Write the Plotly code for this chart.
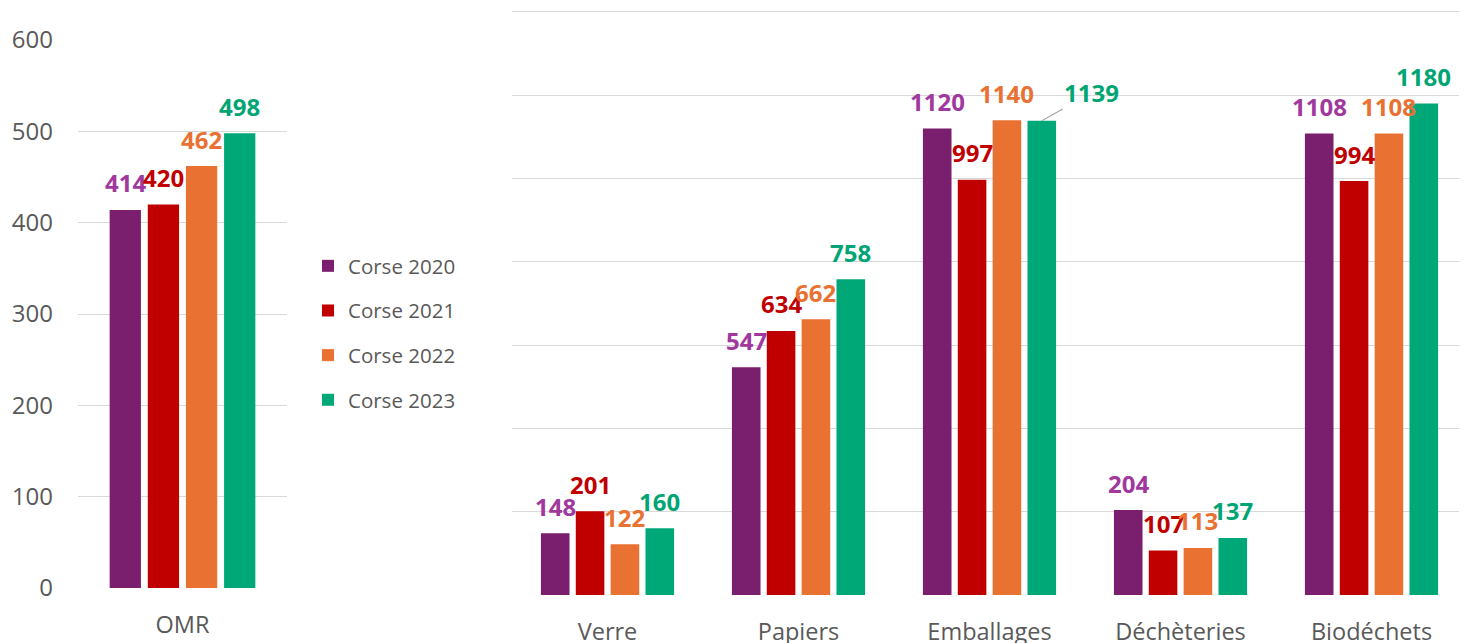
import plotly.graph_objects as go

# ---- data ----
series = ["Corse 2020", "Corse 2021", "Corse 2022", "Corse 2023"]
omr_categories = ["OMR"]
omr_values = [414, 420, 462, 498]  # 2020..2023

categories = ["Verre", "Papiers", "Emballages", "Déchèteries", "Biodéchets"]
corse_2020 = [148, 547, 1120, 204, 1108]
corse_2021 = [201, 634, 997, 107, 994]
corse_2022 = [122, 662, 1140, 113, 1108]
corse_2023 = [160, 758, 1139, 137, 1180]
right_values = [corse_2020, corse_2021, corse_2022, corse_2023]

left_ticks = [0, 100, 200, 300, 400, 500, 600]
right_ticks = [0, 200, 400, 600, 800, 1000, 1200, 1400]

# ---- style ----
bar_colors = ["#7A1F6D", "#C00000", "#E97132", "#00A878"]
label_colors = ["#A1389E", "#C00000", "#E97132", "#00A573"]
gray = "#595959"
grid = "#D9D9D9"
FONT = "Open Sans"

OFF = 8  # page body margin
W, H = 1467 - OFF, 643 - OFF
bargap = 0.27
bargroupgap = 0.18


def px(xs):
    return (xs - OFF) / W


def py(ys):
    return (H - (ys - OFF)) / H


x1_dom = [px(78), px(287)]
x2_dom = [px(512), 1.0]
y1_dom = [py(588), py(40)]
y2_top = 1405
y2_dom = [py(595), py(12 - (y2_top - 1400) / 2.4)]

fig = go.Figure()
for i, s in enumerate(series):
    fig.add_trace(go.Bar(
        x=omr_categories, y=[omr_values[i]], name=s,
        marker=dict(color=bar_colors[i], line=dict(width=0)),
        xaxis="x", yaxis="y", legendgroup=s, showlegend=True,
        hoverinfo="skip"))
    fig.add_trace(go.Bar(
        x=categories, y=right_values[i], name=s,
        marker=dict(color=bar_colors[i], line=dict(width=0)),
        xaxis="x2", yaxis="y2", legendgroup=s, showlegend=False,
        hoverinfo="skip"))

# data labels (centered above each bar)
annotations = []


def slot_px(dom, ncat):
    catw = (dom[1] - dom[0]) * W / ncat
    return (1 - bargap) * catw / len(series)


s1 = slot_px(x1_dom, len(omr_categories))
s2 = slot_px(x2_dom, len(categories))
for i in range(len(series)):
    f = dict(family=FONT, size=24, color=label_colors[i])
    for c, v in zip(omr_categories, [omr_values[i]]):
        annotations.append(dict(x=c, y=v, xref="x", yref="y", text=f"<b>{v}</b>",
                                showarrow=False, xshift=(i - 1.5) * s1, yshift=27,
                                font=f))
    for c, v in zip(categories, right_values[i]):
        if i == 3 and c == "Emballages":
            annotations.append(dict(x=c, y=v, xref="x2", yref="y2", text=f"<b>{v}</b>",
                                    showarrow=True, arrowhead=0, arrowwidth=1.2,
                                    arrowcolor="#A6A6A6", ax=50, ay=-28, standoff=0,
                                    xshift=(i - 1.5) * s2, font=f))
        else:
            annotations.append(dict(x=c, y=v, xref="x2", yref="y2", text=f"<b>{v}</b>",
                                    showarrow=False, xshift=(i - 1.5) * s2, yshift=27,
                                    font=f))

fig.update_layout(
    width=W, height=H,
    margin=dict(l=0, r=0, t=0, b=0),
    paper_bgcolor="white", plot_bgcolor="white",
    barmode="group", bargap=bargap, bargroupgap=bargroupgap,
    font=dict(family=FONT, color=gray),
    showlegend=True,
    legend=dict(x=px(308), xanchor="left", y=py(246), yanchor="top",
                font=dict(family=FONT, size=20.5, color=gray),
                tracegroupgap=15, traceorder="grouped",
                bgcolor="rgba(0,0,0,0)", itemclick=False),
    annotations=annotations,
    xaxis=dict(domain=x1_dom, anchor="y", showgrid=False, showline=False,
               ticks="", tickfont=dict(size=23.5, color=gray),
               ticklabelstandoff=20, automargin=False, fixedrange=True),
    yaxis=dict(domain=y1_dom, anchor="x", range=[0, 600], tickvals=left_ticks,
               showgrid=True, gridcolor=grid, gridwidth=1.3, zeroline=False,
               showline=False, ticks="", tickfont=dict(size=24, color=gray),
               ticklabelstandoff=24, automargin=False, fixedrange=True),
    xaxis2=dict(domain=x2_dom, anchor="y2", showgrid=False, showline=False,
                ticks="", tickfont=dict(size=23.5, color=gray),
                ticklabelstandoff=20, automargin=False, fixedrange=True),
    yaxis2=dict(domain=y2_dom, anchor="x2", range=[0, y2_top], tickvals=right_ticks,
                showgrid=True, gridcolor=grid, gridwidth=1.3, zeroline=False,
                showline=False, showticklabels=False, ticks="",
                automargin=False, fixedrange=True),
)

fig.write_html("out.html")
